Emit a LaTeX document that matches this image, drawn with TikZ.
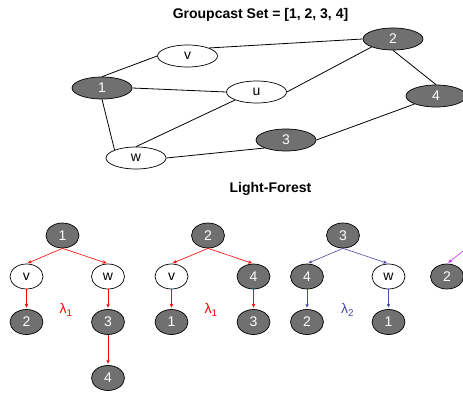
\documentclass[tikz,border=0pt]{standalone}
\usepackage{fontspec}
\setmainfont{Liberation Sans}
\usetikzlibrary{shapes.geometric,arrows.meta,positioning}
\definecolor{memberGray}{RGB}{112,112,112}
\definecolor{lambdaBlue}{RGB}{72,72,168}
\definecolor{lambdaPink}{RGB}{204,40,255}
\tikzstyle{member} = [ellipse, draw=black, line width=0.7pt, fill=memberGray, text=white, inner sep=0pt, minimum width=60pt, minimum height=22pt]
\tikzstyle{relay} = [ellipse, draw=black, line width=0.7pt, fill=white, inner sep=0pt, minimum width=60pt, minimum height=22pt]
\tikzstyle{treeMember} = [member, minimum width=33pt, minimum height=25pt]
\tikzstyle{treeRelay} = [relay, minimum width=33pt, minimum height=25pt]
\tikzstyle{link} = [draw=black, line width=0.8pt]
\tikzstyle{lightArrow} = [-{Stealth[length=4pt,width=3.5pt]}, line width=0.6pt, shorten >=1.5pt]

\begin{document}
\begin{tikzpicture}[x=1pt, y=-1pt, node distance=41pt, font=\fontsize{14}{16}\selectfont]
\useasboundingbox (0,0) rectangle (463,393);
\clip (0,0) rectangle (463,393);
% Titles
\node (title_set) at (260.5,15) {\bfseries Groupcast Set = [1, 2, 3, 4]};
\node (title_forest) at (270.5,189) {\bfseries Light-Forest};
% Draw network
\node (n_1) [member] at (102,88) {1};
\node (n_2) [member] at (393,39) {2};
\node (n_3) [member] at (286,140) {3};
\node (n_4) [member] at (436,96) {4};
\node (r_v) [relay] at (187.5,56) {v};
\node (r_u) [relay] at (256.5,92) {u};
\node (r_w) [relay] at (136,158) {w};
% Draw links
\draw [link] (n_1.north) -- (r_v.west);
\draw [link] (r_v.north east) -- (n_2.west);
\draw [link] (n_1.east) -- (r_u.west);
\draw [link] (r_u.east) -- (n_2.south west);
\draw [link] (n_2.south) -- (n_4.north);
\draw [link] (n_1.south) -- (r_w.north west);
\draw [link] (r_w.north) -- (r_u.south west);
\draw [link] (r_w.east) -- (n_3.south west);
\draw [link] (n_3.east) -- (n_4.south west);
% Tree rooted at 1
\node (a_1) [treeMember] at (62.5,235.5) {1};
\node (a_v) [treeRelay, below of = a_1, xshift=-36pt] {v};
\node (a_w) [treeRelay, below of = a_1, xshift=45.5pt] {w};
\node (a_2) [treeMember, below of = a_v, node distance=45.5pt] {2};
\node (a_3) [treeMember, below of = a_w, node distance=45.5pt] {3};
\node (a_4) [treeMember, below of = a_3, node distance=56pt] {4};
% Tree rooted at 2
\node (b_2) [treeMember] at (208,235.5) {2};
\node (b_v) [treeRelay, below of = b_2, xshift=-36.5pt] {v};
\node (b_4) [treeMember, below of = b_2, xshift=45.5pt] {4};
\node (b_1) [treeMember, below of = b_v, node distance=45.5pt] {1};
\node (b_3) [treeMember, below of = b_4, node distance=45.5pt] {3};
% Tree rooted at 3
\node (c_3) [treeMember] at (343,235.5) {3};
\node (c_4) [treeMember, below of = c_3, xshift=-36pt] {4};
\node (c_w) [treeRelay, below of = c_3, xshift=45.5pt] {w};
\node (c_2) [treeMember, below of = c_4, node distance=45.5pt] {2};
\node (c_1) [treeMember, below of = c_w, node distance=45.5pt] {1};
% Last tree, root off the page
\coordinate (d_root) at (467,248);
\node (d_2) [treeMember] at (447,276.5) {2};
% Wavelength labels
\node (lambda_a) [text=red] at (66,310) {λ\textsubscript{1}};
\node (lambda_b) [text=red] at (211,310) {λ\textsubscript{1}};
\node (lambda_c) [text=lambdaBlue] at (347.5,310) {λ\textsubscript{2}};
% Draw arrows
\draw [lightArrow, red] (a_1.south) -- (a_v.north);
\draw [lightArrow, red] (a_1.south) -- (a_w.north);
\draw [lightArrow, red] (a_v) -- (a_2);
\draw [lightArrow, red] (a_w) -- (a_3);
\draw [lightArrow, red] (a_3) -- (a_4);
\draw [lightArrow, red] (b_2.south) -- (b_v.north);
\draw [lightArrow, red] (b_2.south) -- (b_4.north);
\draw [lightArrow, red] (b_v) -- (b_1);
\draw [lightArrow, red] (b_4) -- (b_3);
\draw [lightArrow, lambdaBlue] (c_3.south) -- (c_4.north);
\draw [lightArrow, lambdaBlue] (c_3.south) -- (c_w.north);
\draw [lightArrow, lambdaBlue] (c_4) -- (c_2);
\draw [lightArrow, lambdaBlue] (c_w) -- (c_1);
\draw [lightArrow, lambdaPink] (d_root) -- (d_2.north);
\end{tikzpicture}
\end{document}
